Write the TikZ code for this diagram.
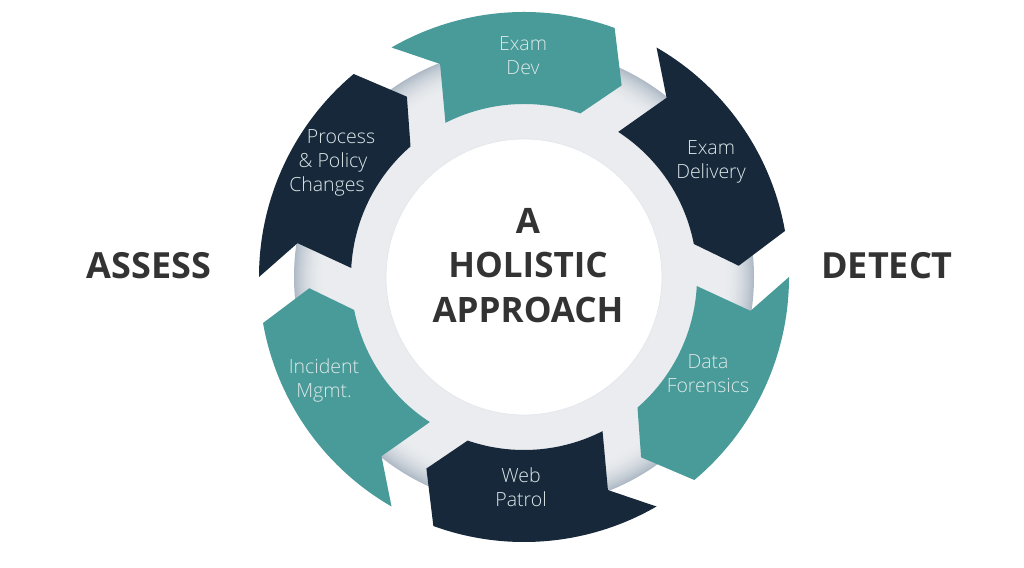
\documentclass[tikz,border=0pt]{standalone}
\usepackage{fontspec}
\setmainfont{Open Sans}
\newfontfamily\lightfont{Open Sans Light}
\definecolor{teal1}{HTML}{489B98}
\definecolor{navy1}{HTML}{16283A}
\definecolor{ringgray}{HTML}{EAECEF}
\definecolor{ringmid}{HTML}{D3D9DF}
\definecolor{ringdark}{HTML}{AFBAC6}
\definecolor{labelc}{HTML}{DDE8E9}
\definecolor{headc}{HTML}{333333}
\tikzset{
  segarrow/.pic={
    \path[pic actions] (120:265) arc[start angle=120,end angle=70,radius=265]
      -- (63:215) -- (71:173) arc[start angle=71,end angle=117,radius=173]
      -- (111.5:229) -- cycle;
  },
  seglabel/.style={text=labelc, font=\lightfont\fontsize{19.5}{24}\selectfont, align=center, inner sep=0pt},
  headline/.style={text=headc, font=\fontsize{35}{42}\selectfont\bfseries, anchor=base, inner sep=0pt},
  sidehead/.style={text=headc, font=\fontsize{36}{42}\selectfont\bfseries, anchor=base, inner sep=0pt}
}
\begin{document}
\begin{tikzpicture}[x=1pt,y=1pt]
\useasboundingbox (0,0) rectangle (1024,567);
\coordinate (c) at (524,290);
% ring with darker outer rim
\foreach \i in {0,...,30}{
  \pgfmathsetmacro{\p}{100*(1-\i/30)^2}
  \fill[ringdark!\p!ringgray] (c) circle[radius=230-\i];
}
\fill[white] (c) circle[radius=138];
\draw[ringmid!60!white, line width=0.8pt] (c) circle[radius=138];
% segments
\pic[fill=teal1] at (c) {segarrow};
\pic[fill=navy1, rotate=-60] at (c) {segarrow};
\pic[fill=teal1, rotate=-120] at (c) {segarrow};
\pic[fill=navy1, rotate=-180] at (c) {segarrow};
\pic[fill=teal1, rotate=-240] at (c) {segarrow};
\pic[fill=navy1, rotate=-300] at (c) {segarrow};
% labels
\node[seglabel] (examdev) at (523,511) {Exam\\Dev};
\node[seglabel] (examdel) at (711,405) {Exam\\Delivery};
\node[seglabel] (forensics) at (708,193) {Data\\Forensics};
\node[seglabel] (patrol) at (521,80) {Web\\Patrol};
\node[seglabel] (incident) at (324,187) {Incident\\Mgmt.};
\node[seglabel] (process) at (333,404) {\hspace*{16pt}Process\\\& Policy\\Changes\hspace*{12pt}};
% center
\node[headline] (ha) at (528,333) {A};
\node[headline] (hb) at (528,289) {HOLISTIC};
\node[headline] (hc) at (528,244) {APPROACH};
% sides
\node[sidehead] (assess) at (149,288) {ASSESS};
\node[sidehead] (detect) at (887,288) {DETECT};
\end{tikzpicture}
\end{document}
